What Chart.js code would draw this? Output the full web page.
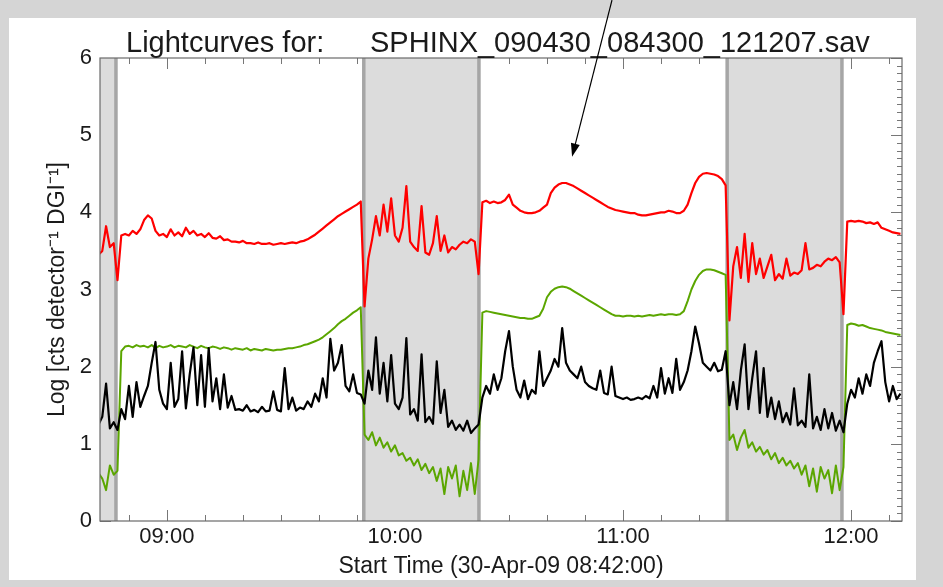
<!DOCTYPE html>
<html>
<head>
<meta charset="utf-8">
<script src="https://cdn.jsdelivr.net/npm/chart.js@4.4.1/dist/chart.umd.min.js"></script>
<style>
  html, body { margin: 0; padding: 0; background: #d5d5d5; }
  #wrap { width: 943px; height: 587px; }
</style>
</head>
<body>
<div id="wrap"><canvas id="lightcurves" width="943" height="587"></canvas></div>
<script>
// minutes after 08:42:00, one sample per minute
const minutes = Array.from({ length: 212 }, (_, i) => i);

const redLog = [
  3.45, 3.50, 3.82, 3.55, 3.60, 3.12, 3.70, 3.72, 3.70, 3.76,
  3.72, 3.78, 3.90, 3.96, 3.92, 3.76, 3.70, 3.72, 3.68, 3.78,
  3.70, 3.74, 3.69, 3.80, 3.72, 3.76, 3.70, 3.72, 3.68, 3.73,
  3.67, 3.66, 3.69, 3.64, 3.65, 3.62, 3.62, 3.61, 3.63, 3.60,
  3.60, 3.59, 3.61, 3.59, 3.59, 3.60, 3.58, 3.59, 3.60, 3.59,
  3.60, 3.61, 3.60, 3.62, 3.63, 3.65, 3.68, 3.71, 3.75, 3.79,
  3.83, 3.87, 3.91, 3.95, 3.98, 4.01, 4.04, 4.07, 4.10, 4.14,
  2.78, 3.40, 3.65, 3.95, 3.70, 4.10, 3.75, 4.18, 3.70, 3.62,
  3.80, 4.34, 3.62, 3.55, 3.50, 4.08, 3.48, 3.45, 3.60, 3.95,
  3.50, 3.70, 3.48, 3.55, 3.52, 3.58, 3.62, 3.60, 3.65, 3.62,
  3.20, 4.13, 4.15, 4.12, 4.14, 4.12, 4.13, 4.16, 4.23, 4.10,
  4.06, 4.02, 4.00, 3.99, 3.99, 4.00, 4.02, 4.06, 4.10, 4.25,
  4.32, 4.36, 4.38, 4.38, 4.36, 4.34, 4.31, 4.28, 4.25, 4.22,
  4.19, 4.16, 4.13, 4.10, 4.07, 4.05, 4.03, 4.02, 4.01, 4.00,
  3.99, 3.99, 3.97, 3.96, 3.96, 3.97, 3.98, 3.99, 4.00, 4.00,
  4.02, 4.01, 3.99, 3.99, 4.02, 4.10, 4.25, 4.38, 4.46, 4.50,
  4.51, 4.50, 4.49, 4.47, 4.43, 4.35, 2.60, 3.30, 3.55, 3.15,
  3.72, 3.10, 3.60, 3.20, 3.40, 3.15, 3.30, 3.45, 3.12, 3.20,
  3.14, 3.40, 3.18, 3.22, 3.20, 3.25, 3.60, 3.26, 3.28, 3.32,
  3.30, 3.36, 3.40, 3.38, 3.42, 3.35, 2.68, 3.88, 3.89, 3.88,
  3.89, 3.88, 3.86, 3.87, 3.85, 3.87, 3.80, 3.78, 3.76, 3.74,
  3.73, 3.72
];

const greenLog = [
  0.62, 0.55, 0.40, 0.72, 0.60, 0.65, 2.20, 2.26, 2.27, 2.25,
  2.28, 2.26, 2.27, 2.25, 2.28, 2.24, 2.27, 2.25, 2.26, 2.28,
  2.25, 2.27, 2.26, 2.25, 2.28, 2.26, 2.24, 2.27, 2.25, 2.24,
  2.26, 2.25, 2.23, 2.25, 2.24, 2.22, 2.24, 2.23, 2.22, 2.24,
  2.21, 2.23, 2.22, 2.21, 2.23, 2.22, 2.21, 2.22, 2.22, 2.23,
  2.24, 2.24, 2.25, 2.26, 2.28, 2.29, 2.31, 2.33, 2.35, 2.38,
  2.42, 2.46, 2.50, 2.55, 2.59, 2.62, 2.66, 2.70, 2.73, 2.77,
  1.12, 1.05, 1.15, 0.98, 1.08, 0.95, 1.02, 0.90, 0.98, 0.85,
  0.88, 0.78, 0.82, 0.72, 0.80, 0.66, 0.74, 0.62, 0.70, 0.52,
  0.68, 0.35, 0.70, 0.55, 0.72, 0.32, 0.65, 0.40, 0.75, 0.35,
  0.80, 2.70, 2.72, 2.71, 2.70, 2.69, 2.68, 2.67, 2.66, 2.65,
  2.64, 2.63, 2.63, 2.62, 2.62, 2.64, 2.66, 2.75, 2.90, 2.97,
  3.01, 3.03, 3.04, 3.03, 3.01, 2.98, 2.95, 2.92, 2.89, 2.86,
  2.83, 2.80, 2.77, 2.74, 2.71, 2.68, 2.66, 2.66, 2.65, 2.66,
  2.66, 2.65, 2.66, 2.65, 2.66, 2.67, 2.66, 2.67, 2.68, 2.67,
  2.68, 2.68, 2.67, 2.68, 2.72, 2.85, 3.00, 3.11, 3.19, 3.24,
  3.26, 3.26, 3.25, 3.23, 3.21, 3.19, 1.05, 1.12, 0.92, 1.08,
  1.18, 0.95, 1.02, 0.90, 0.96, 0.86, 0.92, 0.80, 0.88, 0.75,
  0.82, 0.72, 0.78, 0.68, 0.75, 0.60, 0.72, 0.45, 0.68, 0.38,
  0.70, 0.55, 0.66, 0.36, 0.72, 0.40, 0.70, 2.54, 2.56, 2.55,
  2.53, 2.54, 2.52, 2.50, 2.49, 2.48, 2.47, 2.45, 2.44, 2.43,
  2.42, 2.41
];

const blackLog = [
  1.25, 1.35, 1.78, 1.20, 1.28, 1.18, 1.45, 1.32, 1.75, 1.35,
  1.80, 1.48, 1.62, 1.75, 2.05, 2.32, 1.70, 1.52, 1.45, 2.05,
  1.48, 1.58, 2.20, 1.46, 1.90, 2.25, 1.50, 2.15, 1.48, 2.24,
  1.55, 1.85, 1.45, 1.90, 1.47, 1.62, 1.44, 1.45, 1.43, 1.50,
  1.42, 1.44, 1.41, 1.48, 1.42, 1.43, 1.68, 1.44, 1.42, 1.98,
  1.45, 1.60, 1.43, 1.47, 1.45, 1.55, 1.48, 1.65, 1.55, 1.85,
  1.60, 2.36, 1.95, 2.05, 2.28, 1.75, 1.68, 1.90, 1.66, 1.64,
  1.52, 1.95, 1.70, 2.38, 1.65, 2.05, 1.55, 2.15, 1.52, 1.45,
  1.60, 2.37, 1.38, 1.45, 1.30, 2.16, 1.28, 1.35, 1.26, 2.07,
  1.40, 1.70, 1.22, 1.30, 1.18, 1.25, 1.17, 1.30, 1.14, 1.20,
  1.25, 1.60, 1.75, 1.65, 1.90, 1.70, 1.85, 2.20, 2.46, 2.00,
  1.70, 1.60, 1.82, 1.58, 1.70, 1.65, 2.20, 1.75, 1.85, 1.95,
  2.10, 2.00, 2.50, 2.05, 1.95, 1.90, 1.85, 2.00, 1.80, 1.75,
  1.72, 1.70, 1.95, 1.66, 1.64, 2.00, 1.62, 1.60, 1.58, 1.60,
  1.57, 1.58, 1.60, 1.58, 1.62, 1.59, 1.75, 1.60, 1.98, 1.65,
  1.85, 1.66, 2.10, 1.70, 1.80, 1.95, 2.20, 2.52, 2.30, 2.05,
  2.00, 1.95, 2.05, 1.94, 1.96, 2.20, 1.50, 1.80, 1.45, 1.95,
  2.29, 1.45, 1.85, 2.20, 1.40, 1.98, 1.35, 1.60, 1.32, 1.55,
  1.28, 1.40, 1.25, 1.72, 1.24, 1.30, 1.22, 1.90, 1.20, 1.35,
  1.18, 1.45, 1.20, 1.40, 1.17, 1.30, 1.15, 1.52, 1.70, 1.60,
  1.85, 1.65, 1.90, 1.75, 2.05, 2.20, 2.33, 1.80, 1.55, 1.75,
  1.58, 1.65
];

// shaded intervals (minutes after 08:42)
const bandStart = [-25.8, 69.8, 165.4];
const bandEnd = [4.6, 100.1, 195.6];

const majorTickMinutes = [18, 78, 138, 198];
const tickLabels = ['09:00', '10:00', '11:00', '12:00'];

// arrow annotation, [minute, log value]
const arrowTail = [135.1, 6.75];
const arrowHead = [124.6, 4.72];

const FONT = '"Liberation Sans", Arial, Helvetica, sans-serif';

const backdrop = {
  id: 'backdrop',
  beforeDraw(chart) {
    const ctx = chart.ctx;
    ctx.save();
    ctx.fillStyle = '#d5d5d5';
    ctx.fillRect(0, 0, chart.width, chart.height);
    ctx.fillStyle = '#ffffff';
    ctx.fillRect(9, 18, 907, 562);
    ctx.restore();
  }
};

const frame = {
  id: 'frame',
  beforeDatasetsDraw(chart) {
    const { ctx, chartArea: a, scales: { x, y } } = chart;
    ctx.save();
    // inward ticks
    ctx.strokeStyle = '#777';
    ctx.lineWidth = 1;
    ctx.beginPath();
    for (let m = 8; m <= 208; m += 10) {
      const px = Math.round(x.getPixelForValue(m)) + 0.5;
      const len = majorTickMinutes.includes(m) ? 11 : 6;
      ctx.moveTo(px, a.bottom); ctx.lineTo(px, a.bottom - len);
      ctx.moveTo(px, a.top); ctx.lineTo(px, a.top + len);
    }
    for (let k = 0; k <= 60; k++) {
      const py = Math.round(y.getPixelForValue(k / 10)) + 0.5;
      const len = k % 10 === 0 ? 11 : 5;
      ctx.moveTo(a.left, py); ctx.lineTo(a.left + len, py);
      ctx.moveTo(a.right, py); ctx.lineTo(a.right - len, py);
    }
    ctx.stroke();

    // shaded bands
    ctx.beginPath();
    ctx.rect(a.left, a.top, a.right - a.left, a.bottom - a.top);
    ctx.clip();
    bandStart.forEach((s, i) => {
      const x0 = x.getPixelForValue(s);
      const x1 = x.getPixelForValue(bandEnd[i]);
      ctx.fillStyle = '#dcdcdc';
      ctx.fillRect(x0, a.top, x1 - x0, a.bottom - a.top);
      ctx.strokeStyle = '#a6a6a6';
      ctx.lineWidth = 3.5;
      ctx.beginPath();
      ctx.moveTo(x0, a.top); ctx.lineTo(x0, a.bottom);
      ctx.moveTo(x1, a.top); ctx.lineTo(x1, a.bottom);
      ctx.stroke();
    });
    ctx.restore();
  },
  afterDraw(chart) {
    const { ctx, chartArea: a, scales: { x, y } } = chart;
    ctx.save();
    ctx.strokeStyle = '#6a6a6a';
    ctx.lineWidth = 1.2;
    ctx.strokeRect(a.left, a.top, a.right - a.left, a.bottom - a.top);

    // title
    ctx.fillStyle = '#1a1a1a';
    ctx.font = '29px ' + FONT;
    ctx.textBaseline = 'alphabetic';
    ctx.textAlign = 'left';
    ctx.fillText('Lightcurves for:', 126, 52);
    ctx.fillText('SPHINX_090430_084300_121207.sav', 370, 52);

    // arrow
    const tx = x.getPixelForValue(arrowTail[0]), ty = y.getPixelForValue(arrowTail[1]);
    const hx = x.getPixelForValue(arrowHead[0]), hy = y.getPixelForValue(arrowHead[1]);
    const ang = Math.atan2(hy - ty, hx - tx);
    ctx.strokeStyle = '#000';
    ctx.lineWidth = 1.2;
    ctx.beginPath();
    ctx.moveTo(tx, ty);
    ctx.lineTo(hx - 10 * Math.cos(ang), hy - 10 * Math.sin(ang));
    ctx.stroke();
    ctx.fillStyle = '#000';
    ctx.beginPath();
    ctx.moveTo(hx, hy);
    ctx.lineTo(hx - 14 * Math.cos(ang - 0.33), hy - 14 * Math.sin(ang - 0.33));
    ctx.lineTo(hx - 14 * Math.cos(ang + 0.33), hy - 14 * Math.sin(ang + 0.33));
    ctx.closePath();
    ctx.fill();
    ctx.restore();
  }
};

const toPoints = vals => vals.map((v, i) => ({ x: minutes[i], y: v }));

new Chart(document.getElementById('lightcurves'), {
  type: 'line',
  data: {
    datasets: [
      { label: 'black', data: toPoints(blackLog), borderColor: '#000000', borderWidth: 2.2 },
      { label: 'green', data: toPoints(greenLog), borderColor: '#5ba600', borderWidth: 2 },
      { label: 'red', data: toPoints(redLog), borderColor: '#ff0000', borderWidth: 2.2 }
    ]
  },
  options: {
    responsive: false,
    animation: false,
    events: [],
    elements: { point: { radius: 0 }, line: { tension: 0, borderJoinStyle: 'round' } },
    layout: { padding: { left: 44, right: 41, top: 58, bottom: 7 } },
    plugins: { legend: { display: false }, tooltip: { enabled: false } },
    scales: {
      x: {
        type: 'linear',
        min: 0.4,
        max: 211.4,
        grid: { display: false, drawTicks: false },
        border: { display: false },
        afterBuildTicks: s => { s.ticks = majorTickMinutes.map(v => ({ value: v })); },
        afterFit: s => { s.height = 59; },
        ticks: {
          autoSkip: false, maxRotation: 0, padding: 3,
          color: '#1a1a1a', font: { family: FONT, size: 22 },
          callback: (v, i) => tickLabels[i]
        },
        title: {
          display: true, text: 'Start Time (30-Apr-09 08:42:00)',
          color: '#1a1a1a', font: { family: FONT, size: 23 },
          padding: { top: 2, bottom: 0 }
        }
      },
      y: {
        min: 0,
        max: 6,
        grid: { display: false, drawTicks: false },
        border: { display: false },
        afterFit: s => { s.width = 56; },
        ticks: {
          stepSize: 1, padding: 8,
          color: '#1a1a1a', font: { family: FONT, size: 22 }
        },
        title: {
          display: true, text: 'Log [cts detector\u207B\u00B9 DGI\u207B\u00B9]',
          color: '#1a1a1a', font: { family: FONT, size: 23 },
          padding: 0
        }
      }
    }
  },
  plugins: [backdrop, frame]
});
</script>
</body>
</html>
